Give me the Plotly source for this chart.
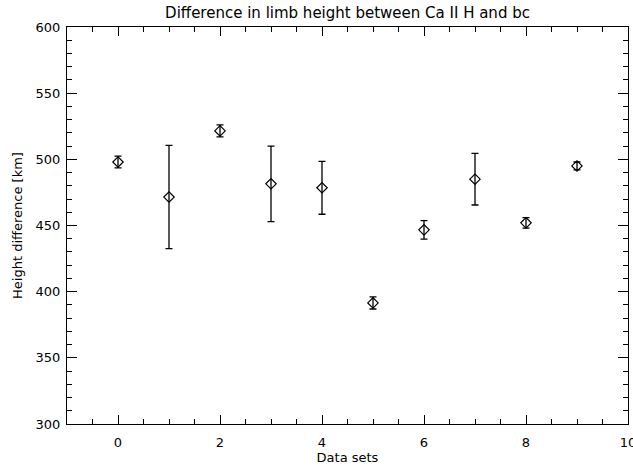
import plotly.graph_objects as go

data_sets = [0, 1, 2, 3, 4, 5, 6, 7, 8, 9]
height_diff = [498, 471.5, 521.5, 481.5, 478.5, 391.5, 446.7, 485, 452, 495]
height_err = [4.5, 39, 4.5, 28.5, 20, 4.6, 7, 19.5, 4, 3]

x_ticks = [0, 2, 4, 6, 8, 10]
y_ticks = [300, 350, 400, 450, 500, 550, 600]

font = dict(family="DejaVu Sans", size=13, color="black")

fig = go.Figure()
fig.add_trace(go.Scatter(
    x=data_sets, y=height_diff, mode="markers",
    marker=dict(symbol="diamond-open", size=8, color="black", line=dict(width=1.2, color="black")),
    error_y=dict(type="data", array=height_err, visible=True, color="black", thickness=1.3, width=3.5),
    showlegend=False,
))

fig.update_layout(
    width=633, height=467,
    margin=dict(l=67, r=5, t=27, b=43, autoexpand=False),
    paper_bgcolor="white", plot_bgcolor="white",
    font=font,
    title=dict(text="Difference in limb height between Ca II H and bc", x=0.549, xanchor="center",
               y=0.972, yanchor="middle", font=dict(family="DejaVu Sans", size=15, color="black")),
    xaxis=dict(range=[-1, 10.0001], tickvals=x_ticks, ticks="inside", ticklen=9, tickwidth=1,
               showline=True, linecolor="black", linewidth=1, mirror="ticks", showgrid=False,
               zeroline=False, minor=dict(dtick=0.5, tick0=0, ticks="inside", ticklen=5, tickcolor="black"),
               tickcolor="black", ticklabeloverflow="allow", ticklabelstandoff=6, automargin=False,
               title=dict(text="Data sets", standoff=4, font=font), tickfont=font),
    yaxis=dict(range=[300, 600], tickvals=y_ticks, ticks="inside", ticklen=10, tickwidth=1,
               showline=True, linecolor="black", linewidth=1, mirror="ticks", showgrid=False,
               zeroline=False, minor=dict(dtick=10, tick0=300, ticks="inside", ticklen=5, tickcolor="black"),
               tickcolor="black", ticklabelstandoff=3, automargin=False,
               title=dict(text="Height difference [km]", standoff=10, font=font), tickfont=font),
)

fig.write_html("out.html")
